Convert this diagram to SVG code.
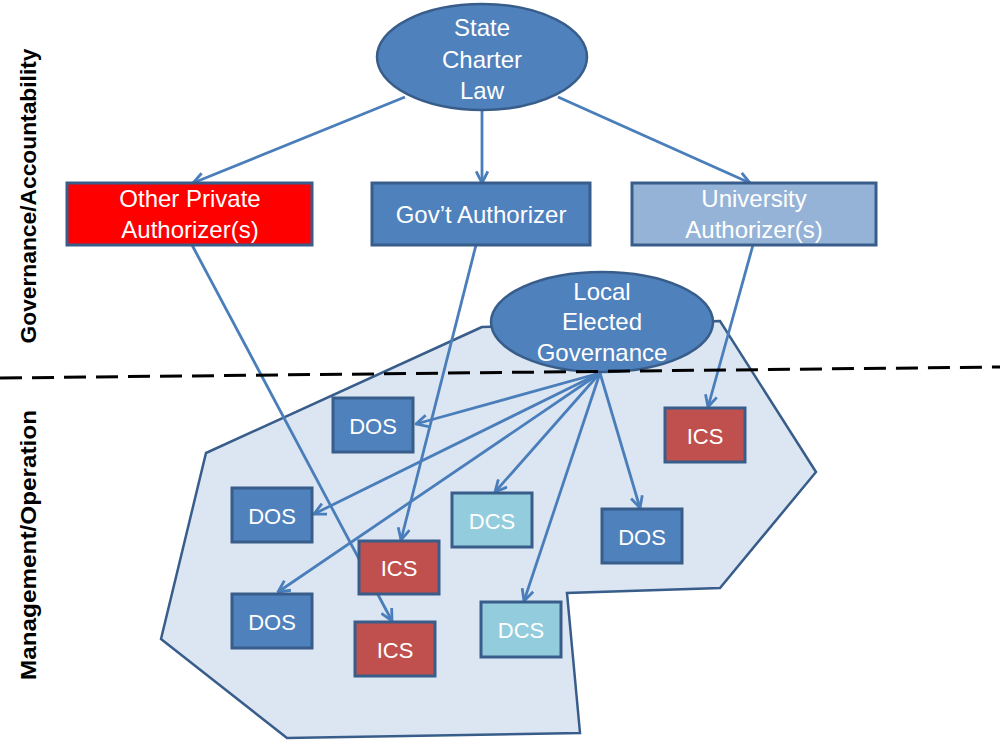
<svg xmlns="http://www.w3.org/2000/svg" width="1000" height="740" viewBox="0 0 1000 740">
<style>
.box{stroke:#385D8A;stroke-width:3}
.dos{fill:#4F81BD}
.ics{fill:#C0504D}
.dcs{fill:#93CDDD}
.ell{fill:#4F81BD;stroke:#385D8A;stroke-width:2.5}
.t{font-family:"Liberation Sans",Arial,sans-serif;fill:#FFFFFF;text-anchor:middle}
.big{font-size:24px}
.sm{font-size:22px}
.lbl{font-family:"Liberation Sans",Arial,sans-serif;font-weight:bold;font-size:22px;fill:#000;text-anchor:middle}
.con{fill:none;stroke:#4A7EBB;stroke-width:2.8;marker-end:url(#arr)}
</style>
<defs>
<marker id="arr" viewBox="0 0 12 12" refX="11" refY="6" markerWidth="14" markerHeight="14" markerUnits="userSpaceOnUse" orient="auto">
<path d="M1,1 L11,6 L1,11" fill="none" stroke="#4A7EBB" stroke-width="2.4"/>
</marker>
</defs>
<rect width="1000" height="740" fill="#FFFFFF"/>
<g id="district-area">
<polygon points="482,327 206,453 161,639 287,738 580,733 567,593 720,588 816,472 720,321" fill="#DCE6F2" stroke="#385D8A" stroke-width="2.5"/>
</g>
<g id="labels">
<text class="lbl" transform="translate(36,196) rotate(-90)" textLength="295" lengthAdjust="spacingAndGlyphs">Governance/Accountability</text>
<text class="lbl" transform="translate(36,545) rotate(-90)" textLength="270" lengthAdjust="spacingAndGlyphs">Management/Operation</text>
</g>
<g id="connectors">
<line class="con" x1="405" y1="97" x2="193" y2="183"/>
<line class="con" x1="482" y1="110" x2="482" y2="183"/>
<line class="con" x1="558" y1="97" x2="750" y2="183"/>
<line class="con" x1="192" y1="245" x2="392" y2="621"/>
<line class="con" x1="476" y1="245" x2="401" y2="540"/>
<line class="con" x1="753" y1="245" x2="708" y2="407"/>
<line class="con" x1="600" y1="373" x2="416" y2="424"/>
<line class="con" x1="600" y1="373" x2="314" y2="514"/>
<line class="con" x1="600" y1="373" x2="278" y2="592"/>
<line class="con" x1="600" y1="373" x2="495" y2="492"/>
<line class="con" x1="600" y1="373" x2="524" y2="601"/>
<line class="con" x1="600" y1="373" x2="640" y2="508"/>
</g>
<g id="state-charter-law">
<ellipse class="ell" cx="482" cy="57" rx="105" ry="53"/>
<text class="t big" x="482" y="36">State</text>
<text class="t big" x="482" y="68">Charter</text>
<text class="t big" x="482" y="99">Law</text>
</g>
<g id="other-private-authorizer">
<rect class="box" x="67" y="183" width="245" height="62" fill="#FF0000"/>
<text class="t big" x="190" y="207">Other Private</text>
<text class="t big" x="190" y="238">Authorizer(s)</text>
</g>
<g id="govt-authorizer">
<rect class="box dos" x="372" y="183" width="218" height="62"/>
<text class="t big" x="481" y="223">Gov’t Authorizer</text>
</g>
<g id="university-authorizer">
<rect class="box" x="632" y="183" width="244" height="62" fill="#95B3D7"/>
<text class="t big" x="754" y="207">University</text>
<text class="t big" x="754" y="238">Authorizer(s)</text>
</g>
<g id="local-elected-governance">
<ellipse class="ell" cx="602" cy="322" rx="111" ry="50"/>
<text class="t big" x="602" y="300">Local</text>
<text class="t big" x="602" y="330">Elected</text>
<text class="t big" x="602" y="361">Governance</text>
</g>
<g id="divider">
<line x1="0" y1="378" x2="1000" y2="367" stroke="#000" stroke-width="3" stroke-dasharray="22,10"/>
</g>
<g id="dos-1"><rect class="box dos" x="333" y="398" width="80" height="54"/><text class="t sm" x="373" y="434">DOS</text></g>
<g id="ics-1"><rect class="box ics" x="665" y="408" width="80" height="54"/><text class="t sm" x="705" y="444">ICS</text></g>
<g id="dos-2"><rect class="box dos" x="232" y="488" width="80" height="54"/><text class="t sm" x="272" y="524">DOS</text></g>
<g id="dcs-1"><rect class="box dcs" x="452" y="493" width="80" height="54"/><text class="t sm" x="492" y="529">DCS</text></g>
<g id="dos-3"><rect class="box dos" x="602" y="509" width="80" height="54"/><text class="t sm" x="642" y="545">DOS</text></g>
<g id="ics-2"><rect class="box ics" x="359" y="541" width="80" height="53"/><text class="t sm" x="399" y="576">ICS</text></g>
<g id="dos-4"><rect class="box dos" x="232" y="594" width="80" height="54"/><text class="t sm" x="272" y="630">DOS</text></g>
<g id="ics-3"><rect class="box ics" x="355" y="622" width="80" height="54"/><text class="t sm" x="395" y="658">ICS</text></g>
<g id="dcs-2"><rect class="box dcs" x="481" y="602" width="80" height="55"/><text class="t sm" x="521" y="638">DCS</text></g>
</svg>
